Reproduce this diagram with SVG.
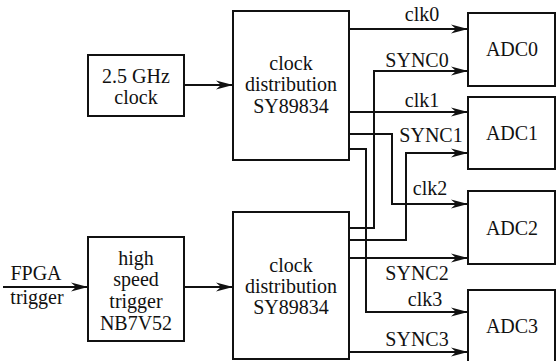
<svg xmlns="http://www.w3.org/2000/svg" width="558" height="361" viewBox="0 0 558 361" font-family="Liberation Serif, DejaVu Serif, serif">
<style>
.box{fill:#fff;stroke:#111;stroke-width:2}
text{font-family:"Liberation Serif",serif;font-size:20px;fill:#111;text-anchor:middle}
.c{fill:none;stroke:#111;stroke-width:2;marker-end:url(#ah)}
</style>
<defs>
<marker id="ah" markerUnits="userSpaceOnUse" markerWidth="18" markerHeight="10" refX="17" refY="5" orient="auto" overflow="visible">
<path d="M0,0.5 L17,5 L0,9.5 L5,5 Z" fill="#111"/>
</marker>
</defs>
<rect width="558" height="361" fill="#fff"/>
<g id="connectors">
<path class="c" d="M184,85 H233"/>
<path class="c" d="M3,287 H88"/>
<path class="c" d="M184,287 H233"/>
<path class="c" d="M349,29 H468"/>
<path class="c" d="M349,228 H374 V71 H468"/>
<path class="c" d="M349,112 H468"/>
<path class="c" d="M349,240 H406 V153 H468"/>
<path class="c" d="M349,134 H392 V204 H468"/>
<path class="c" d="M349,149 H366 V312 H468"/>
<path class="c" d="M349,258 H468"/>
<path class="c" d="M349,352 H468"/>
</g>
<g id="labels">
<text x="422" y="21">clk0</text>
<text x="417" y="67">SYNC0</text>
<text x="422" y="107">clk1</text>
<text x="431" y="142">SYNC1</text>
<text x="430" y="195">clk2</text>
<text x="417" y="280">SYNC2</text>
<text x="425" y="306">clk3</text>
<text x="417" y="346">SYNC3</text>
<text x="36" y="280">FPGA</text>
<text x="37" y="304">trigger</text>
</g>
<g id="clk25">
<rect class="box" x="88" y="55" width="96" height="61"/>
<text x="136" y="83">2.5 GHz</text>
<text x="136" y="104">clock</text>
</g>
<g id="dist1">
<rect class="box" x="233" y="11" width="116" height="149"/>
<text x="291" y="70">clock</text>
<text x="291" y="91">distribution</text>
<text x="291" y="113">SY89834</text>
</g>
<g id="trig">
<rect class="box" x="88" y="237" width="96" height="104"/>
<text x="136" y="265">high</text>
<text x="136" y="286">speed</text>
<text x="136" y="308">trigger</text>
<text x="136" y="330">NB7V52</text>
</g>
<g id="dist2">
<rect class="box" x="233" y="212" width="116" height="147"/>
<text x="291" y="272">clock</text>
<text x="291" y="293">distribution</text>
<text x="291" y="314">SY89834</text>
</g>
<g id="adc0">
<rect class="box" x="468" y="13" width="87" height="73"/>
<text x="512" y="56">ADC0</text>
</g>
<g id="adc1">
<rect class="box" x="468" y="97" width="87" height="72"/>
<text x="512" y="140">ADC1</text>
</g>
<g id="adc2">
<rect class="box" x="468" y="191" width="87" height="73"/>
<text x="512" y="235">ADC2</text>
</g>
<g id="adc3">
<rect class="box" x="468" y="290" width="87" height="75"/>
<text x="512" y="333">ADC3</text>
</g>
</svg>
